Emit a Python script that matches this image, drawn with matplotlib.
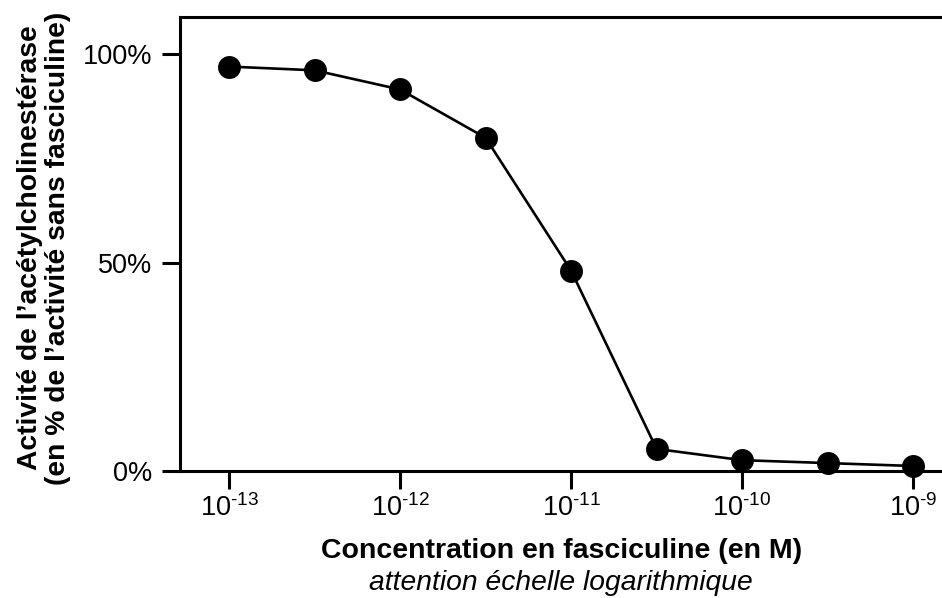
import matplotlib
matplotlib.use("Agg")
import matplotlib.pyplot as plt
import numpy as np

plt.rcParams['font.family'] = ['Liberation Sans', 'DejaVu Sans']
plt.rcParams['mathtext.fontset'] = 'custom'
plt.rcParams['mathtext.rm'] = 'Liberation Sans'
plt.rcParams['mathtext.it'] = 'Liberation Sans:italic'
plt.rcParams['mathtext.bf'] = 'Liberation Sans:bold'

# data
log_conc = [-13, -12.5, -12, -11.5, -11, -10.5, -10, -9.5, -9]
activity = [97.1, 96.2, 91.6, 80.0, 48.1, 5.3, 2.6, 1.9, 1.2]
xtick_exp = [-13, -12, -11, -10, -9]
ytick_vals = [0, 50, 100]
ytick_labels = ['0%', '50%', '100%']

conc = [10.0 ** e for e in log_conc]

fig = plt.figure(figsize=(9.42, 5.98), dpi=100)
ax = fig.add_axes([180/942, 1 - 471/598, 1 - 180/942, (471 - 17)/598])

ax.plot(conc, activity, color='black', lw=1.9, marker='o', ms=15.5, zorder=3, clip_on=False)

ax.set_xscale('log')
ax.set_xlim(10 ** -13.287, 10 ** -8.831)
ax.set_ylim(0, 109)
ax.set_xticks([10.0 ** e for e in xtick_exp])
ax.set_xticklabels([r'$10^{\text{-%d}}$' % (-e) for e in xtick_exp])
ax.xaxis.set_minor_locator(matplotlib.ticker.NullLocator())
ax.set_yticks(ytick_vals)
ax.set_yticklabels(ytick_labels)

for s in ['left', 'bottom', 'top']:
    ax.spines[s].set_linewidth(2.2)
ax.spines['right'].set_visible(False)
ax.tick_params(axis='both', length=13, width=2.2, labelsize=19.5, direction='out')
ax.tick_params(axis='y', pad=7)
ax.tick_params(axis='x', pad=4)

fig.text(44/942, 1 - 248/598,
         "Activité de l\u2019acétylcholinestérase\n(en % de l\u2019activité sans fasciculine)",
         rotation=90, ha='center', va='center', multialignment='center',
         fontsize=20.3, fontweight='bold', linespacing=1.12)

fig.text(562/942, 1 - 551/598, "Concentration en fasciculine (en M)", ha='center', va='center',
         fontsize=20.5, fontweight='bold')
fig.text(561/942, 1 - 583/598, "attention échelle logarithmique", ha='center', va='center',
         fontsize=20.3, style='italic')

fig.savefig('out.png', dpi=100)
